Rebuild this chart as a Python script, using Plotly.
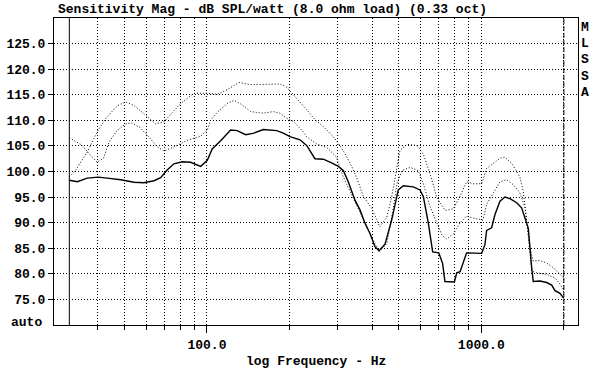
import math
import plotly.graph_objects as go

# ---------------- data ----------------
solid_freq = [31.5, 33.7, 36.6, 40.1, 43.3, 48.5, 54.2, 58.9, 64.1, 67.8, 71.6, 75.8, 81.3, 87.2, 94.9,
              100.3, 104.5, 112.2, 122, 128.9, 138.4, 148.4, 160.4, 179.6, 189.8, 200.7, 218.3, 230.9,
              247.6, 265.5, 284.9, 301.2, 314, 327.5, 346.4, 361.3, 376.8, 392.9, 409.8, 423.6, 445.7,
              471.3, 498.3, 519.6, 565, 597.7, 614.9, 641.2, 665, 700, 723, 737, 798, 814, 837, 860, 884,
              1003, 1031, 1046, 1075, 1091, 1122, 1170, 1220, 1272, 1346, 1403, 1443, 1484, 1527, 1547,
              1637, 1731, 1806, 1857, 1936, 2000]
solid_db = [98.3, 98.0, 98.7, 98.9, 98.7, 98.4, 97.9, 97.8, 98.2, 98.8, 100.3, 101.5, 101.9, 101.8, 101.0,
            102.2, 104.4, 106.0, 108.1, 108.0, 107.2, 107.5, 108.2, 108.0, 107.5, 106.8, 106.2, 105.1,
            102.5, 102.4, 101.7, 101.0, 100.2, 98.0, 94.4, 92.5, 89.9, 87.9, 85.3, 84.5, 85.8,
            90.5, 96.4, 97.2, 97.0, 96.4, 95.1, 89.9, 84.3, 84.1, 82.0, 78.5, 78.4, 80.2, 80.4, 82.1, 84.1,
            84.0, 85.7, 88.5, 88.8, 89.0, 91.6, 94.2, 95.0, 94.7, 93.9, 92.9, 90.9, 88.9, 81.1, 78.5,
            78.6, 78.3, 77.8, 76.7, 76.2, 75.2]

upper_freq = [31.5, 33.0, 36.6, 40.1, 43.3, 47.0, 50.5, 54.2, 59.8, 65.0, 69.7, 75.0, 80.2, 89.7, 100.3,
              109.1, 118.6, 130.8, 143.5, 156.1, 169.7, 184.6, 195.2, 200.7, 215.2, 230.9, 247.6, 265.5,
              288.7, 301.2, 318.5, 337.0, 351.3, 371.3, 398.5, 427.0, 452.6, 471.3, 505.4, 535.6, 582.0,
              614.9, 651.0, 688.0, 738.0, 791.0, 837.0, 884.0, 935.0, 1003.0, 1046.0, 1106.0, 1170.0,
              1220.0, 1291.0, 1346.0, 1383.0, 1422.0, 1472.0, 1506.0, 1547.0, 1637.0, 1731.0, 1831.0,
              1936.0, 2000.0]
upper_db = [99.0, 100.0, 103.8, 108.1, 110.7, 112.8, 113.6, 112.9, 111.0, 109.3, 109.7, 111.5, 113.3, 115.3, 115.3,
            115.1, 116.0, 117.4, 117.0, 117.0, 117.1, 117.1, 116.5, 115.8, 114.0, 112.1, 110.1, 108.8,
            106.8, 105.5, 103.5, 101.0, 98.8, 95.2, 92.8, 89.2, 91.1, 95.0, 104.1, 105.3, 105.1,
            103.4, 99.5, 95.0, 92.4, 92.7, 95.2, 98.0, 97.6, 97.6, 100.6, 101.6, 102.6,
            102.8, 101.6, 100.0, 98.9, 96.2, 89.0, 85.0, 82.5, 82.6, 82.1, 81.2,
            79.9, 79.2]

middle_freq = [31.5, 33.0, 34.9, 37.0, 39.8, 42.0, 44.0, 47.0, 50.5, 53.0, 57.0, 62.0, 66.0, 69.7, 75.8,
               84.8, 94.9, 100.3, 103.1, 109.1, 118.6, 125.5, 132.7, 144.3, 160.0, 174.5, 184.6, 195.2,
               206.4, 221.4, 230.9, 251.0, 273.2, 297.0, 305.3, 320.0, 341.7, 360.0, 382.0, 409.8, 427.0,
               452.6, 475.0, 492.7, 514.0, 550.8, 588.7, 614.9, 651.0, 697.0, 720.0, 748.0, 791.0, 837.0,
               884.0, 935.0, 988.5, 1014.0, 1046.0, 1106.0, 1170.0, 1237.0, 1272.0, 1310.0, 1383.0,
               1443.0, 1472.0, 1506.0, 1530.0, 1587.0, 1731.0, 1857.0, 1936.0, 2000.0]
middle_db = [106.6, 106.0, 105.2, 103.6, 101.8, 102.6, 105.8, 108.0, 109.3, 109.5, 108.6, 106.5, 104.8, 104.0, 104.8,
             106.1, 106.9, 108.1, 110.0, 111.6, 113.3, 113.9, 113.2, 111.7, 111.4, 111.7, 111.4, 110.4,
             109.8, 108.1, 106.8, 105.4, 104.7, 102.8, 100.5, 98.0, 94.6, 92.2, 89.2, 85.9, 84.4,
             85.9, 92.0, 97.6, 100.2, 100.8, 100.2, 97.6, 93.1, 89.2, 87.5, 86.8, 87.8, 90.0,
             91.3, 90.9, 90.6, 90.5, 93.6, 95.8, 98.0, 98.4, 97.9, 97.4, 95.8,
             93.0, 89.0, 84.6, 80.5, 80.2, 79.9, 79.2, 78.0, 76.7]

y_tick_vals = [75, 80, 85, 90, 95, 100, 105, 110, 115, 120, 125]
y_tick_text = ["75.0", "80.0", "85.0", "90.0", "95.0", "100.0", "105.0", "110.0", "115.0", "120.0", "125.0"]
y_bottom_label = "auto"
y_min, y_max = 70, 130

x_major_vals = [100, 1000]
x_major_text = ["100.0", "1000.0"]
x_minor_vals = [40, 50, 60, 70, 80, 90, 200, 300, 400, 500, 600, 700, 800, 900, 2000]
x_range_hz = (27.7, 2252)

title_text = "Sensitivity Mag - dB SPL/watt (8.0 ohm load) (0.33 oct)"
x_title = "log Frequency - Hz"
side_letters = ["M", "L", "S", "S", "A"]

# ---------------- figure ----------------
FONT = dict(family="Liberation Mono", size=13, color="black", weight="bold")
DOT = "1px,2px"

fig = go.Figure()

fig.add_trace(go.Scatter(x=upper_freq, y=upper_db, mode="lines",
                         line=dict(color="black", width=1, dash=DOT), hoverinfo="skip"))
fig.add_trace(go.Scatter(x=middle_freq, y=middle_db, mode="lines",
                         line=dict(color="black", width=1, dash=DOT), hoverinfo="skip"))
fig.add_trace(go.Scatter(x=solid_freq, y=solid_db, mode="lines",
                         line=dict(color="black", width=1.4), hoverinfo="skip"))

# data start / end markers
fig.add_trace(go.Scatter(x=[solid_freq[0], solid_freq[0]], y=[y_min, y_max], mode="lines",
                         line=dict(color="black", width=1), hoverinfo="skip"))
fig.add_trace(go.Scatter(x=[solid_freq[-1], solid_freq[-1]], y=[y_min, y_max], mode="lines",
                         line=dict(color="black", width=1, dash="5px,2px"), hoverinfo="skip"))

W, H = 598, 378
ml, mr, mt, mb = 54, 20, 18, 53
pw, ph = W - ml - mr, H - mt - mb

fig.update_layout(
    width=W, height=H,
    margin=dict(l=ml, r=mr, t=mt, b=mb, pad=0),
    paper_bgcolor="white", plot_bgcolor="white",
    showlegend=False,
    font=FONT,
    title=dict(text=title_text, font=FONT, xref="container", yref="container",
               x=58 / W, xanchor="left", y=1 - 8 / H, yanchor="middle"),
    xaxis=dict(type="log", range=[math.log10(x_range_hz[0]), math.log10(x_range_hz[1])],
               tickmode="array", tickvals=x_major_vals, ticktext=x_major_text,
               ticks="outside", ticklen=7, tickcolor="black", tickwidth=1,
               showgrid=True, gridcolor="black", gridwidth=1, griddash=DOT,
               showline=True, linecolor="black", linewidth=1, mirror=True,
               zeroline=False, tickfont=FONT, automargin=False,
               minor=dict(tickmode="array", tickvals=x_minor_vals, ticks="outside", ticklen=4,
                          tickcolor="black", tickwidth=1, showgrid=True, gridcolor="black",
                          gridwidth=1, griddash=DOT)),
    yaxis=dict(range=[y_min, y_max], tickmode="array", tickvals=y_tick_vals, ticktext=y_tick_text,
               ticks="outside", ticklen=5, tickcolor="black", tickwidth=1,
               showgrid=True, gridcolor="black", gridwidth=1, griddash=DOT,
               showline=True, linecolor="black", linewidth=1, mirror=True,
               zeroline=False, tickfont=FONT, automargin=False),
)

annotations = [
    dict(text=y_bottom_label, xref="paper", yref="y", x=0, y=y_min, xanchor="right", yanchor="middle",
         xshift=-10, yshift=3, showarrow=False, font=FONT),
    dict(text=x_title, xref="paper", yref="paper", x=0.5, y=-(361 - (mt + ph)) / ph,
         xanchor="center", yanchor="middle", showarrow=False, font=FONT),
]
for i, ch in enumerate(side_letters):
    ypix = 27.5 + i * 16.2
    annotations.append(dict(text=ch, xref="paper", yref="paper", x=(585 - ml) / pw,
                            y=(mt + ph - ypix) / ph, xanchor="center", yanchor="middle",
                            showarrow=False, font=FONT))
fig.update_layout(annotations=annotations)

fig.write_html("out.html",
               config={"displayModeBar": False, "staticPlot": True},
               post_script="document.body.style.margin='0';document.documentElement.style.overflow='hidden';document.body.style.overflow='hidden';")
